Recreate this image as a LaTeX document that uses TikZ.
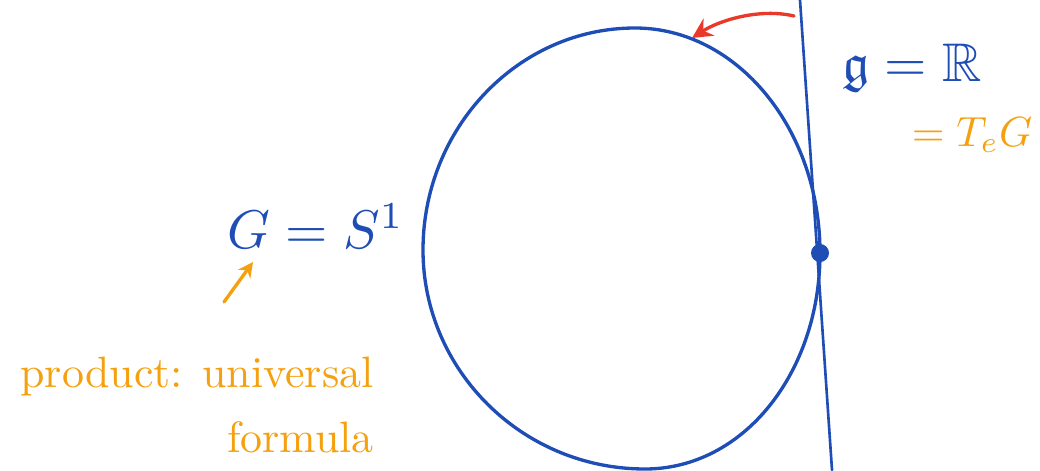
\documentclass[tikz,border=0pt]{standalone}
\usepackage{amsmath,amssymb}
\usepackage{xcolor}
\usepackage{tikz}
\usetikzlibrary{arrows.meta}
\definecolor{inkblue}{HTML}{1F4DB6}
\definecolor{inkorange}{HTML}{F5A10F}
\definecolor{inkred}{HTML}{E8392A}

\begin{document}
\begin{tikzpicture}[x=0.02cm,y=-0.02cm,>={Stealth[length=4mm,width=4mm]},
    stroke/.style={line width=1.9pt,line cap=round,line join=round},
    bluelabel/.style={inkblue,scale=3.1},
    orangelabel/.style={inkorange,scale=2.4}]
    \useasboundingbox (0,0) rectangle (1040,470);

    % the group as a circle
    \coordinate (cleft) at (423,250);
    \coordinate (ctop) at (635,28);
    \coordinate (cright) at (820,253);
    \coordinate (cbot) at (645,469);
    \draw[stroke,inkblue] (cleft) .. controls (423,128) and (518,28) .. (ctop)
      .. controls (737,28) and (820,129) .. (cright)
      .. controls (820,372) and (744,469) .. (cbot)
      .. controls (522,469) and (423,370) .. (cleft) -- cycle;

    % tangent line at the identity
    \coordinate (ttop) at (800,0);
    \coordinate (tbot) at (832,470);
    \draw[stroke,inkblue,line width=1.5pt] (ttop) -- (tbot);
    \node[circle,fill=inkblue,inner sep=0pt,minimum size=3.6mm] (e) at (cright) {};

    % flow along the circle
    \coordinate (rstart) at (794,16);
    \coordinate (rend) at (692,38);
    \draw[stroke,inkred,->] (rstart) .. controls (760,8) and (720,20) .. (rend);

    \node[bluelabel] (lie) at (912,68) {$\mathfrak{g} = \mathbb{R}$};
    \node[orangelabel] (tangent) at (972,135) {$= T_e G$};
    \node[bluelabel] (group) at (316,226) {$G = S^1$};

    \node[inkorange,scale=2.5,align=right]
      (product) at (197,405) {product: universal\\[3pt]formula};
    \coordinate (ostart) at (224,302);
    \coordinate (oend) at (253,262);
    \draw[stroke,inkorange,->,>={Stealth[length=3mm,width=3mm]}]
      (ostart) -- (oend);
\end{tikzpicture}
\end{document}
